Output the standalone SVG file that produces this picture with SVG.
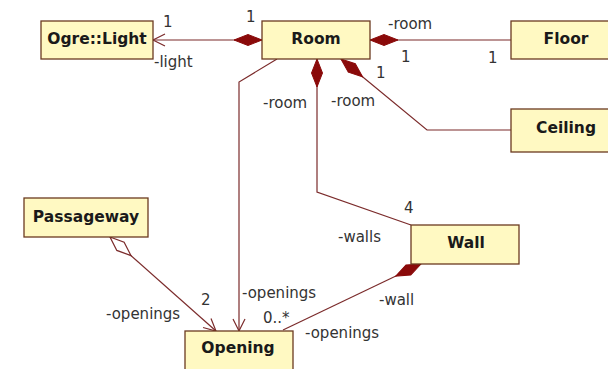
<svg xmlns="http://www.w3.org/2000/svg" width="608" height="369" viewBox="0 0 608 369">
<style>
.box{fill:#FFF9C2;stroke:#6b3a20;stroke-width:1.3}
.name{font-family:"DejaVu Sans",Verdana,sans-serif;font-weight:bold;font-size:15.5px;fill:#1a1a1a;text-anchor:middle}
.lbl{font-family:"DejaVu Sans",Verdana,sans-serif;font-size:15px;fill:#333}
.ln{fill:none;stroke:#7b2b2b;stroke-width:1.2}
</style>
<defs>
<marker id="dia" markerUnits="userSpaceOnUse" viewBox="-1 -7 31 14" refX="0" refY="0" markerWidth="31" markerHeight="14" orient="auto" overflow="visible">
<path d="M0,0 L14,-5.5 L28,0 L14,5.5 Z" fill="#8a0a0a" stroke="#8a0a0a" stroke-width="1"/>
</marker>
<marker id="odia" markerUnits="userSpaceOnUse" viewBox="-1 -7 31 14" refX="0" refY="0" markerWidth="31" markerHeight="14" orient="auto" overflow="visible">
<path d="M0,0 L14,-5.5 L28,0 L14,5.5 Z" fill="#fff" stroke="#7b2b2b" stroke-width="1.2"/>
</marker>
<marker id="arr" markerUnits="userSpaceOnUse" viewBox="-14 -8 16 16" refX="0" refY="0" markerWidth="16" markerHeight="16" orient="auto" overflow="visible">
<path d="M-12,-6 L0,0 L-12,6" fill="none" stroke="#7b2b2b" stroke-width="1.2"/>
</marker>
</defs>
<g id="connectors">
<path class="ln" d="M262,40 L153,40" marker-start="url(#dia)" marker-end="url(#arr)"/>
<path class="ln" d="M370,40 L511,40" marker-start="url(#dia)"/>
<path class="ln" d="M341,59 L427,130 L511,130" marker-start="url(#dia)"/>
<path class="ln" d="M317,59 L317,192 L411,225" marker-start="url(#dia)"/>
<path class="ln" d="M277,59 L239,82 L239,331" marker-end="url(#arr)"/>
<path class="ln" d="M110,237 L216,331" marker-start="url(#odia)" marker-end="url(#arr)"/>
<path class="ln" d="M421,264 L283,330" marker-start="url(#dia)"/>
<text class="lbl" x="163" y="27">1</text>
<text class="lbl" x="154" y="67">-light</text>
<text class="lbl" x="246" y="22">1</text>
<text class="lbl" x="388" y="29">-room</text>
<text class="lbl" x="401" y="62">1</text>
<text class="lbl" x="488" y="63">1</text>
<text class="lbl" x="376" y="78">1</text>
<text class="lbl" x="331" y="106">-room</text>
<text class="lbl" x="263" y="108">-room</text>
<text class="lbl" x="404" y="213">4</text>
<text class="lbl" x="338" y="242">-walls</text>
<text class="lbl" x="379" y="305">-wall</text>
<text class="lbl" x="305" y="338">-openings</text>
<text class="lbl" x="263" y="323">0..*</text>
<text class="lbl" x="242" y="298">-openings</text>
<text class="lbl" x="201" y="305">2</text>
<text class="lbl" x="106" y="319">-openings</text>
</g>
<g id="ogre-light"><rect class="box" x="41" y="21" width="112" height="38"/><text class="name" x="97" y="44">Ogre::Light</text></g>
<g id="room"><rect class="box" x="262" y="21" width="108" height="38"/><text class="name" x="316" y="44">Room</text></g>
<g id="floor"><rect class="box" x="511" y="21" width="110" height="38"/><text class="name" x="566" y="44">Floor</text></g>
<g id="ceiling"><rect class="box" x="511" y="109" width="110" height="43"/><text class="name" x="566" y="133">Ceiling</text></g>
<g id="wall"><rect class="box" x="411" y="225" width="108" height="39"/><text class="name" x="466" y="248">Wall</text></g>
<g id="passageway"><rect class="box" x="24" y="198" width="124" height="39"/><text class="name" x="86" y="222">Passageway</text></g>
<g id="opening"><rect class="box" x="185" y="331" width="108" height="42"/><text class="name" x="238" y="353">Opening</text></g>
</svg>
